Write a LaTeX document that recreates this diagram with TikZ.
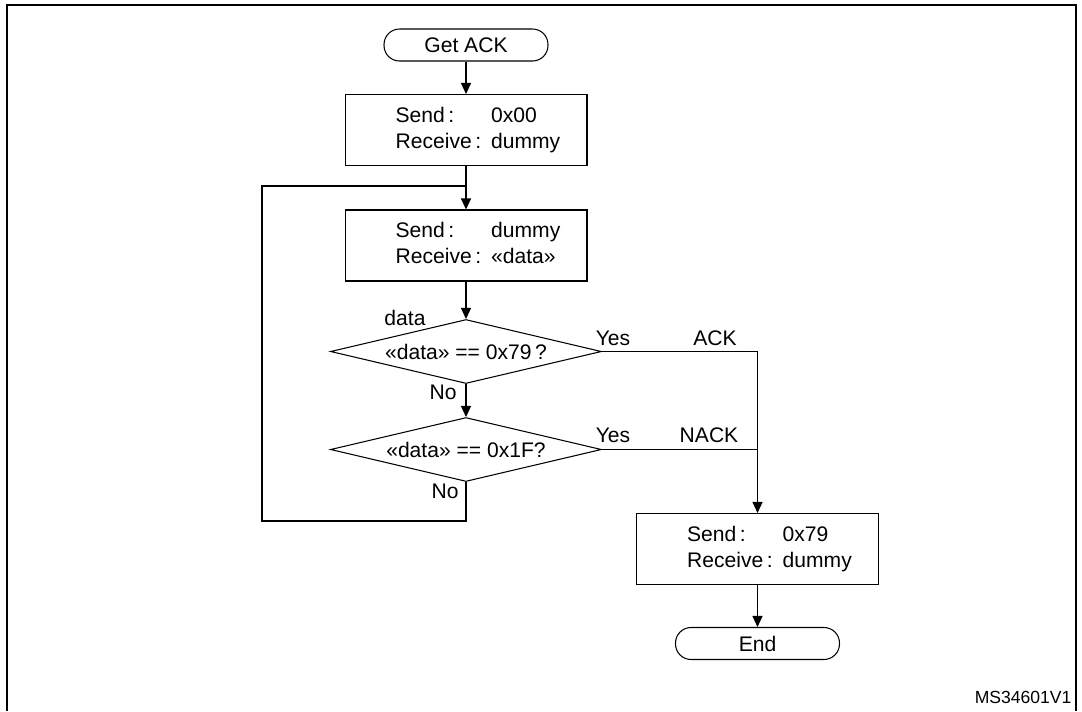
\documentclass[tikz,border=0pt]{standalone}
\usepackage{fontspec}
\setmainfont{Liberation Sans}
\usetikzlibrary{arrows.meta,shapes.geometric}

\newcommand{\sendrecv}[2]{\begin{tabular}{@{\hspace{0.48cm}}l@{\hspace{0.2cm}}l@{}}Send\,: & #1\\Receive\,: & #2\end{tabular}}

\begin{document}
\begin{tikzpicture}[x=0.02cm,y=-0.02cm,
  font=\fontsize{12}{14.8}\selectfont,line width=0.6pt,
  terminal/.style={draw,rounded corners=0.31cm,minimum width=3.28cm,
    minimum height=0.64cm,inner sep=0pt},
  process/.style={draw,minimum width=4.84cm,minimum height=1.42cm,inner sep=0pt},
  decision/.style={draw,diamond,aspect=4.3,minimum width=5.42cm,
    minimum height=1.28cm,inner sep=0pt},
  flow/.style={-{Triangle[length=0.22cm,width=0.2cm]}},
  lbl/.style={anchor=base,inner sep=0pt}]
  \useasboundingbox (0,0) rectangle (1082,711);
  \draw[line width=1.6pt] (7,711) -- (7,5) -- (1076,5) -- (1076,711);

  \node[terminal] (start) at (466,45) {Get ACK};
  \node[process] (send1) at (466,130) {\sendrecv{0x00}{dummy}};
  \node[process] (send2) at (466,245.5) {\sendrecv{dummy}{«data»}};
  \node[decision] (test1) at (466,351.5) {«data» == 0x79\,?};
  \node[decision] (test2) at (466,449.5) {«data» == 0x1F?};
  \node[process] (send3) at (757.5,549) {\sendrecv{0x79}{dummy}};
  \node[terminal] (stop) at (757.5,643.5) {End};

  \draw[flow] (start) -- (send1);
  \draw[flow] (send1) -- (send2);
  \draw[flow] (send2) -- (test1);
  \draw[flow] (test1) -- (test2);
  \draw[flow] (test1.east) -| (send3.north);
  \draw (test2.east) -- (test2.east -| send3.north);
  \draw[flow] (send3) -- (stop);
  % retry loop back above the second box
  \coordinate (looptop) at (262,186);
  \coordinate (loopbot) at (262,521);
  \coordinate (join) at (send1.south |- looptop);
  \draw (test2.south) |- (loopbot) -- (looptop) -- (join);

  \node[lbl] (datalbl) at (405,325) {data};
  \node[lbl] (no1) at (443,399) {No};
  \node[lbl] (no2) at (445,498) {No};
  \node[lbl] (yes1) at (613,345) {Yes};
  \node[lbl] (ack) at (715,345) {ACK};
  \node[lbl] (yes2) at (613,442) {Yes};
  \node[lbl] (nack) at (709,442) {NACK};
  \node[lbl,anchor=base east,font=\fontsize{10}{12}\selectfont] (figid)
    at (1072,703) {MS34601V1};
\end{tikzpicture}
\end{document}
